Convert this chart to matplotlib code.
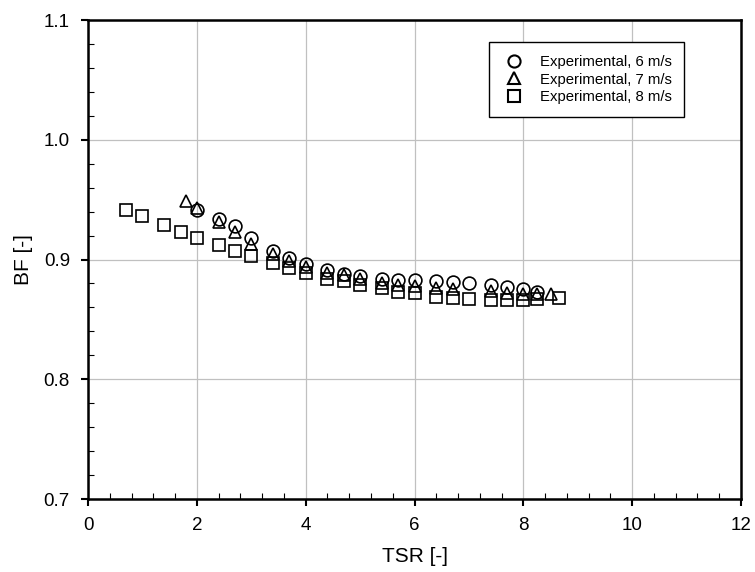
import matplotlib
matplotlib.use("Agg")
import matplotlib.pyplot as plt
from matplotlib.ticker import MultipleLocator

plt.rcParams['font.family'] = ['Liberation Sans', 'DejaVu Sans']

tsr_6 = [2.0, 2.4, 2.7, 3.0, 3.4, 3.7, 4.0, 4.4, 4.7, 5.0, 5.4, 5.7, 6.0, 6.4, 6.7, 7.0, 7.4, 7.7, 8.0, 8.25]
bf_6 = [0.941, 0.934, 0.928, 0.918, 0.907, 0.901, 0.896, 0.891, 0.888, 0.886, 0.884, 0.883, 0.883, 0.882, 0.881, 0.880, 0.879, 0.877, 0.875, 0.873]

tsr_7 = [1.8, 2.0, 2.4, 2.7, 3.0, 3.4, 3.7, 4.0, 4.4, 4.7, 5.0, 5.4, 5.7, 6.0, 6.4, 6.7, 7.4, 7.7, 8.0, 8.25, 8.5]
bf_7 = [0.949, 0.943, 0.931, 0.923, 0.913, 0.905, 0.899, 0.894, 0.889, 0.887, 0.884, 0.880, 0.879, 0.878, 0.876, 0.875, 0.874, 0.872, 0.871, 0.871, 0.871]

tsr_8 = [0.7, 1.0, 1.4, 1.7, 2.0, 2.4, 2.7, 3.0, 3.4, 3.7, 4.0, 4.4, 4.7, 5.0, 5.4, 5.7, 6.0, 6.4, 6.7, 7.0, 7.4, 7.7, 8.0, 8.25, 8.65]
bf_8 = [0.941, 0.936, 0.929, 0.923, 0.918, 0.912, 0.907, 0.903, 0.897, 0.893, 0.889, 0.884, 0.882, 0.879, 0.876, 0.873, 0.872, 0.869, 0.868, 0.867, 0.866, 0.866, 0.866, 0.867, 0.868]

labels = ["Experimental, 6 m/s", "Experimental, 7 m/s", "Experimental, 8 m/s"]

fig = plt.figure(figsize=(7.55, 5.72), dpi=100)
ax = fig.add_axes([0.1166, 0.1276, 0.8649, 0.8374])

mk = dict(linestyle='none', markerfacecolor='none', markeredgecolor='black',
          markeredgewidth=1.2, markersize=9.2)
ax.plot(tsr_6, bf_6, marker='o', label=labels[0], **mk)
ax.plot(tsr_7, bf_7, marker='^', label=labels[1], **mk)
ax.plot(tsr_8, bf_8, marker='s', label=labels[2], **mk)

ax.set_xlim(0, 12)
ax.set_ylim(0.7, 1.1)
ax.xaxis.set_major_locator(MultipleLocator(2))
ax.xaxis.set_minor_locator(MultipleLocator(0.4))
ax.yaxis.set_major_locator(MultipleLocator(0.1))
ax.yaxis.set_minor_locator(MultipleLocator(0.02))
ax.set_yticks([0.7, 0.8, 0.9, 1.0, 1.1])
ax.set_yticklabels(["0.7", "0.8", "0.9", "1.0", "1.1"])

ax.grid(True, which='major', color='#c0c0c0', linewidth=0.9)
ax.set_axisbelow(True)
for s in ax.spines.values():
    s.set_linewidth(1.8)
ax.tick_params(which='major', direction='out', length=5, width=1.5, labelsize=13.5, pad=8)
ax.tick_params(which='minor', direction='in', length=4, width=0.8)

ax.set_xlabel("TSR [-]", fontsize=15, labelpad=9)
ax.set_ylabel("BF [-]", fontsize=15, labelpad=8)

leg = ax.legend(loc='upper right', bbox_to_anchor=(0.9127, 0.9534), borderaxespad=0,
                fontsize=10.7, frameon=True, fancybox=False, edgecolor='black', framealpha=1,
                handletextpad=0.95, borderpad=0.85, labelspacing=0.25, handlelength=1.6,
                markerscale=0.95)
leg.get_frame().set_linewidth(1.0)
for h in leg.legend_handles:
    h.set_markeredgewidth(1.5)

fig.savefig("out.png", dpi=100)
